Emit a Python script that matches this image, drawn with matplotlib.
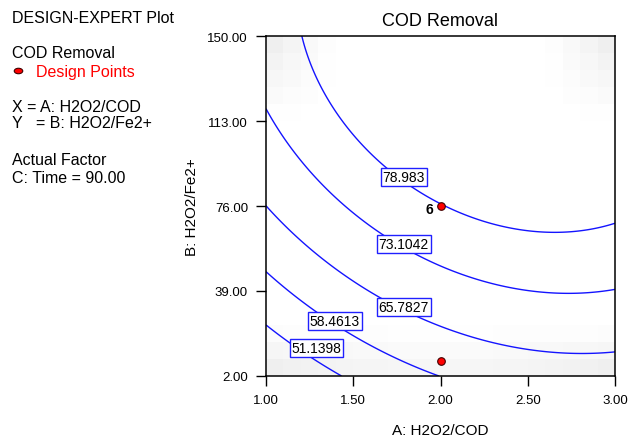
''' COD removal contour plot (Design-Expert style) '''
import numpy as np
import matplotlib.pyplot as plt
from matplotlib.patches import Ellipse

plt.rcParams['font.family'] = ['Liberation Sans', 'DejaVu Sans']

# quadratic model in coded units: A = H2O2/COD - 2, B = (H2O2/Fe2+ - 76) / 74
COEF_0 = 78.80
COEF_A = 7.22
COEF_B = 13.91
COEF_AA = -5.82
COEF_BB = -6.34
COEF_AB = -2.55

LEVELS = [51.1398, 58.4613, 65.7827, 73.1042, 78.983]
LEVEL_TEXT = ['51.1398', '58.4613', '65.7827', '73.1042', '78.983']
LABEL_X = [1.29, 1.395, 1.79, 1.79, 1.79]
LABEL_Y = [14.2, 26.0, 32.0, 59.5, 88.6]

POINT_X = [2.0, 2.0]
POINT_Y = [76.0, 8.4]
POINT_TAG = ['6', '']

X_TICKS = [1.0, 1.5, 2.0, 2.5, 3.0]
Y_TICKS = [2.0, 39.0, 76.0, 113.0, 150.0]


def model(x, y):
    '''predicted COD removal'''
    a = x - 2.0
    b = (y - 76.0) / 74.0
    return (COEF_0 + COEF_A * a + COEF_B * b + COEF_AA * a * a
            + COEF_BB * b * b + COEF_AB * a * b)


def main():
    '''main function'''
    fig = plt.figure(figsize=(6.28, 4.39), dpi=100)
    ax = fig.add_axes([266 / 628, 1 - 377 / 439, 349 / 628, 340 / 439])

    # light grey blocks where the prediction is less certain
    xe = np.linspace(1, 3, 21)
    ye = np.linspace(2, 150, 21)
    xc = (xe[:-1] + xe[1:]) / 2
    yc = (ye[:-1] + ye[1:]) / 2
    ca, cb = np.meshgrid(xc - 2.0, (yc - 76.0) / 74.0)
    top = np.clip((np.abs(ca) - 0.6) / 0.4, 0, 1) * np.clip((cb - 0.5) / 0.5, 0, 1)
    bot = np.clip((-cb - 0.7) / 0.3, 0, 1) * (0.55 + 0.45 * ca ** 2)
    shade = 1 - 0.08 * np.maximum(top, bot)
    ax.pcolormesh(xe, ye, shade, cmap='gray', vmin=0, vmax=1, zorder=0)

    gx, gy = np.meshgrid(np.linspace(1, 3, 300), np.linspace(2, 150, 300))
    ax.contour(gx, gy, model(gx, gy), levels=LEVELS, colors='#1414ff',
               linewidths=1.0, zorder=2)

    for txt, lx, ly in zip(LEVEL_TEXT, LABEL_X, LABEL_Y):
        ax.text(lx, ly, txt, fontsize=10, ha='center', va='center', zorder=4,
                bbox=dict(boxstyle='square,pad=0.12', fc='white', ec='#2020ff', lw=1.0))

    ax.scatter(POINT_X, POINT_Y, s=30, c='red', edgecolors='#400000',
               linewidths=0.8, zorder=5)
    for tag, px, py in zip(POINT_TAG, POINT_X, POINT_Y):
        if tag:
            ax.text(px - 0.04, py - 1.5, tag, fontsize=10, fontweight='bold',
                    ha='right', va='center', zorder=5)

    ax.set_xlim(1, 3)
    ax.set_ylim(2, 150)
    ax.set_xticks(X_TICKS)
    ax.set_yticks(Y_TICKS)
    ax.set_xticklabels([f'{v:.2f}' for v in X_TICKS])
    ax.set_yticklabels([f'{v:.2f}' for v in Y_TICKS])
    ax.tick_params(direction='out', length=7, width=1, labelsize=9.5, pad=6)
    for sp in ax.spines.values():
        sp.set_linewidth(1.1)
    ax.set_xlabel('A: H2O2/COD', fontsize=11, labelpad=12)
    ax.set_ylabel('B: H2O2/Fe2+', fontsize=11, labelpad=6)
    ax.set_title('COD Removal', fontsize=13, pad=8)

    # info block on the left
    left = 12 / 628
    info = [('DESIGN-EXPERT Plot', 18.5), ('COD Removal', 54),
            ('X = A: H2O2/COD', 108), ('Y   = B: H2O2/Fe2+', 124),
            ('Actual Factor', 161), ('C: Time = 90.00', 178.5)]
    for txt, yy in info:
        fig.text(left, 1 - yy / 439, txt, fontsize=11.5, color='black', va='center')
    fig.text(36 / 628, 1 - 72 / 439, 'Design Points', fontsize=11.5, color='red',
             va='center')
    fig.add_artist(Ellipse((0.185, (439 - 72) / 100), 0.085, 0.055,
                           transform=fig.dpi_scale_trans, fc='red', ec='#400000', lw=0.8))

    fig.savefig('out.png', dpi=100)


if __name__ == "__main__":
    main()
